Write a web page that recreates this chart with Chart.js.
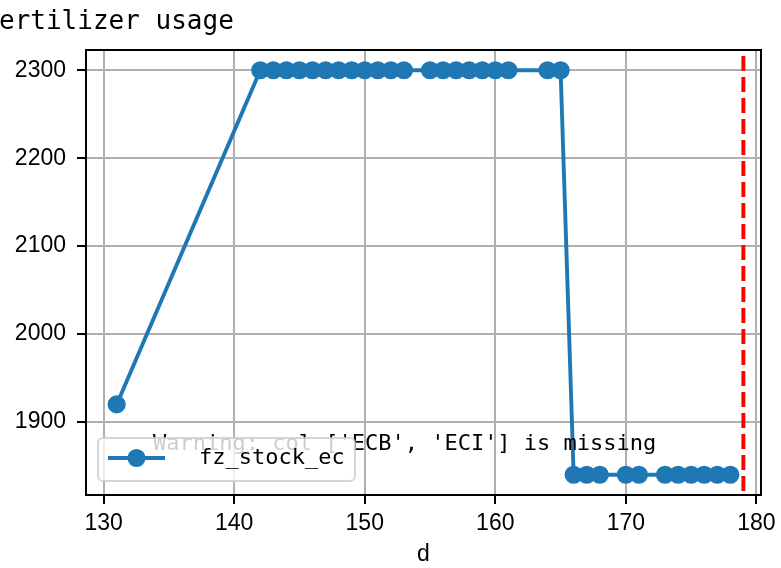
<!DOCTYPE html>
<html>
<head>
<meta charset="utf-8">
<script src="https://cdn.jsdelivr.net/npm/chart.js@4/dist/chart.umd.min.js"></script>
<style>
html,body{margin:0;padding:0;background:#ffffff;}
canvas{display:block;}
</style>
</head>
<body>
<canvas id="c" width="781" height="568"></canvas>
<script>
// ---- data ----
const days = [131,
  142,143,144,145,146,147,148,149,150,151,152,153,
  155,156,157,158,159,160,161,
  164,165,
  166,167,168,
  170,171,
  173,174,175,176,177,178];
const fzStockEc = [1920,
  2300,2300,2300,2300,2300,2300,2300,2300,2300,2300,2300,2300,
  2300,2300,2300,2300,2300,2300,2300,
  2300,2300,
  1840,1840,1840,
  1840,1840,
  1840,1840,1840,1840,1840,1840];
const xTicks = [130,140,150,160,170,180];
const yTicks = [1900,2000,2100,2200,2300];
const vlineDay = 179;
const seriesLabel = 'fz_stock_ec';
const titleText = 'ertilizer usage';
const warningText = "Warning: col ['ECB', 'ECI'] is missing";
const xAxisLabel = 'd';

const BLUE = '#1f77b4';
const MONO = '"DejaVu Sans Mono", monospace';

const overlay = {
  id: 'overlay',
  afterDatasetsDraw(chart) {
    const ctx = chart.ctx, a = chart.chartArea, xs = chart.scales.x;
    // red dashed vertical line
    const px = xs.getPixelForValue(vlineDay);
    ctx.save();
    ctx.beginPath(); ctx.rect(a.left, a.top, a.right - a.left, a.bottom - a.top); ctx.clip();
    ctx.strokeStyle = '#ff0000'; ctx.lineWidth = 3.9;
    ctx.setLineDash([15, 6]); ctx.lineDashOffset = 15;
    ctx.beginPath(); ctx.moveTo(px, a.top); ctx.lineTo(px, a.bottom); ctx.stroke();
    ctx.restore();
    // frame
    ctx.save();
    ctx.strokeStyle = '#000'; ctx.lineWidth = 2;
    ctx.strokeRect(a.left, a.top, a.right - a.left, a.bottom - a.top);
    ctx.restore();
    // title
    ctx.save();
    ctx.fillStyle = '#000'; ctx.font = '26px ' + MONO;
    ctx.textAlign = 'left'; ctx.textBaseline = 'alphabetic';
    ctx.fillText(titleText, -1, 29);
    // warning text
    ctx.font = '22px ' + MONO;
    ctx.fillText(warningText, 153, 450);
    ctx.restore();
  },
  afterDraw(chart) {
    const ctx = chart.ctx;
    const ds = chart.data.datasets[0];
    // legend box
    const bx = 98, by = 438, bw = 257, bh = 43, r = 5;
    ctx.save();
    ctx.beginPath();
    ctx.roundRect(bx, by, bw, bh, r);
    ctx.fillStyle = 'rgba(255,255,255,0.8)';
    ctx.fill();
    ctx.strokeStyle = 'rgba(204,204,204,0.8)';
    ctx.lineWidth = 2;
    ctx.stroke();
    // legend handle
    ctx.strokeStyle = ds.borderColor; ctx.lineWidth = 3.9;
    ctx.beginPath(); ctx.moveTo(108, 458); ctx.lineTo(165, 458); ctx.stroke();
    ctx.beginPath(); ctx.arc(136.5, 458, 7.8, 0, Math.PI * 2);
    ctx.fillStyle = ds.pointBackgroundColor; ctx.fill();
    ctx.lineWidth = 2.6; ctx.strokeStyle = ds.pointBorderColor; ctx.stroke();
    // legend label
    ctx.fillStyle = '#000'; ctx.font = '22px ' + MONO;
    ctx.textAlign = 'left'; ctx.textBaseline = 'alphabetic';
    ctx.fillText(ds.label, 199, 464);
    ctx.restore();
  }
};

const points = days.map((d, i) => ({x: d, y: fzStockEc[i]}));

new Chart(document.getElementById('c'), {
  type: 'line',
  data: {
    datasets: [{
      label: seriesLabel,
      data: points,
      borderColor: BLUE,
      backgroundColor: BLUE,
      pointBackgroundColor: BLUE,
      pointBorderColor: BLUE,
      borderWidth: 3.9,
      pointRadius: 7.8,
      pointBorderWidth: 2.6,
      pointHoverRadius: 7.8,
      tension: 0,
      fill: false
    }]
  },
  options: {
    responsive: false,
    animation: false,
    devicePixelRatio: 1,
    events: [],
    layout: {padding: {top: 50, right: 20, left: 0, bottom: 0}},
    plugins: {
      legend: {display: false},
      title: {display: false},
      tooltip: {enabled: false}
    },
    scales: {
      x: {
        type: 'linear',
        min: 128.65,
        max: 180.35,
        afterBuildTicks: s => { s.ticks = xTicks.map(v => ({value: v})); },
        afterFit: s => { s.height = 73; s.paddingLeft = 0; s.paddingRight = 0; },
        grid: {color: '#b0b0b0', lineWidth: 2, tickColor: '#000', tickLength: 9, tickWidth: 2, drawTicks: true},
        border: {display: true, color: '#000', width: 2},
        ticks: {
          color: '#000', padding: 6, maxRotation: 0, autoSkip: false,
          font: {family: '"Liberation Sans", Arial, sans-serif', size: 23},
          callback: v => String(v)
        },
        title: {
          display: true, text: xAxisLabel, color: '#000',
          font: {family: '"Liberation Sans", Arial, sans-serif', size: 23},
          padding: {top: 0, bottom: 0}
        }
      },
      y: {
        type: 'linear',
        min: 1817,
        max: 2323,
        afterBuildTicks: s => { s.ticks = yTicks.map(v => ({value: v})); },
        afterFit: s => { s.width = 86; s.paddingTop = 0; s.paddingBottom = 0; },
        grid: {color: '#b0b0b0', lineWidth: 2, tickColor: '#000', tickLength: 9, tickWidth: 2, drawTicks: true},
        border: {display: true, color: '#000', width: 2},
        ticks: {
          color: '#000', padding: 11, autoSkip: false,
          font: {family: '"Liberation Sans", Arial, sans-serif', size: 23},
          callback: v => String(v)
        }
      }
    }
  },
  plugins: [overlay]
});
</script>
</body>
</html>
